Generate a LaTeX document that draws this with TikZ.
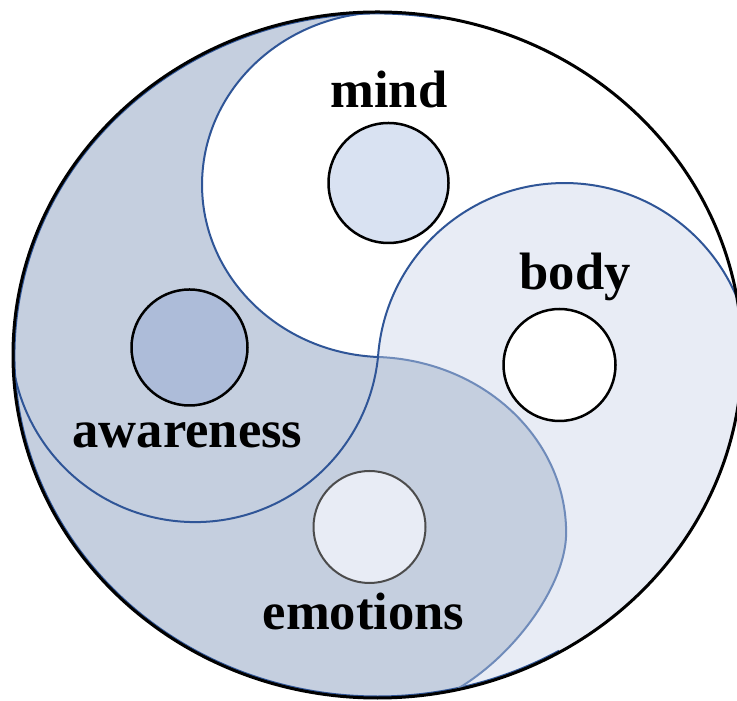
\documentclass[tikz,border=0pt]{standalone}
\usepackage{fontspec}
\setmainfont{Liberation Serif}
\usepackage{tikz}
\usetikzlibrary{calc}

\definecolor{edgeblue}{HTML}{2F5597}
\definecolor{softblue}{HTML}{6F8BBA}
\definecolor{darkfill}{HTML}{C5CFDF}
\definecolor{lightfill}{HTML}{E8ECF5}
\definecolor{mindfill}{HTML}{D9E2F2}
\definecolor{awarefill}{HTML}{ADBCD9}

\begin{document}
\begin{tikzpicture}[x=0.5pt, y=0.5pt,
    part/.style={line width=1pt, draw=edgeblue},
    dot/.style={circle, draw=black, line width=1.25pt, inner sep=0pt},
    word/.style={anchor=base, font=\fontsize{26.3}{30}\selectfont\bfseries}]
    \useasboundingbox (0,0) rectangle (737,700);
    \coordinate (O) at (377.5,345);
    \coordinate (J) at (378,343);
    \coordinate (R) at (566,167);
    \begin{scope}
        \clip (O) ellipse [x radius=364.5, y radius=343];
        \fill[lightfill] (O) ellipse [x radius=364.5, y radius=343];
        % upper right part (mind)
        \fill[white] (J) arc[start angle=267.5, end angle=90, x radius=184, y radius=172.5]
            -- (760,720) -- (760,343) -- cycle;
        \fill[lightfill] (564.5,330) circle (187);
        % left and bottom part
        \fill[darkfill] (J) arc[start angle=267.5, end angle=90, x radius=184, y radius=172.5]
            -- (-10,720) -- (-10,-20) -- (400,-20) -- (400,-10)
            .. controls (480,0) and (566,100) .. (R)
            arc[start angle=0, end angle=87.7, x radius=196, y radius=176] -- cycle;
        \draw[part, line width=2.5pt] (O) ++(80:364.5 and 343)
            arc[start angle=80, end angle=300, x radius=364.5, y radius=343];
        \draw[part] (J) arc[start angle=267.5, end angle=90, x radius=184, y radius=172.5];
        \draw[part, draw=softblue] (J) arc[start angle=87.7, end angle=0, x radius=196, y radius=176]
            .. controls (566,100) and (480,0) .. (400,-10);
        \draw[part] (J) arc[start angle=-5.9, end angle=-190, radius=184];
        \draw[part] (J) arc[start angle=176, end angle=-20, radius=187];
    \end{scope}
    \draw[line width=1.5pt] (O) ellipse [x radius=364.5, y radius=343];
    \node[dot, fill=mindfill, minimum size=60pt] (mind) at (388.5,517) {};
    \node[dot, fill=white, minimum size=56pt] (body) at (559.5,335) {};
    \node[dot, fill=awarefill, minimum size=58pt] (aware) at (189.5,352.5) {};
    \node[dot, draw=black!70, line width=1pt, fill=lightfill, minimum size=56pt] (emo) at (369.5,173) {};
    \node[word] (mindtext) at (389,592) {mind};
    \node[word] (bodytext) at (575,410) {body};
    \node[word] (awaretext) at (187.5,252) {awareness};
    \node[word] (emotext) at (363.5,70) {emotions};
\end{tikzpicture}
\end{document}
